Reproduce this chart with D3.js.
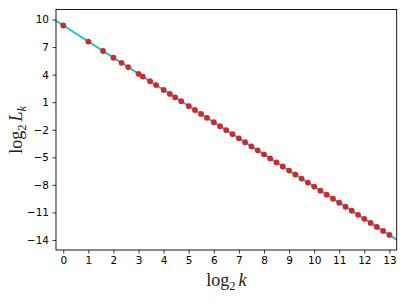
<!DOCTYPE html>
<html>
<head>
<meta charset="utf-8">
<script src="https://cdn.jsdelivr.net/npm/d3@7"></script>
<style>
  body { margin: 0; background: #fff; }
  svg { display: block; }
  .tick text { font-family: "DejaVu Sans", sans-serif; font-size: 10.5px; fill: #000; }
  .lab { font-family: "Liberation Serif", "DejaVu Serif", serif; fill: #222; }
</style>
</head>
<body>
<div id="chart"></div>
<script>
// sample sizes k (points) and the measured log2 L_k
const kValues = [1, 2, 3, 4, 5, 6, 8, 9, 11, 13, 16, 19, 22, 26, 32, 38, 45, 53, 64, 76, 90, 107,
  128, 152, 181, 215, 256, 304, 362, 430, 512, 608, 724, 861, 1024, 1217, 1448, 1722,
  2048, 2435, 2896, 3444, 4096, 4870, 5792, 6888, 8192];
const log2L = [9.35, 7.60, 6.57, 5.84, 5.28, 4.82, 4.09, 3.79, 3.28, 2.86, 2.33, 1.90, 1.53, 1.11,
  0.58, 0.15, -0.28, -0.70, -1.17, -1.61, -2.04, -2.47, -2.93, -3.36, -3.81, -4.24,
  -4.68, -5.12, -5.56, -5.99, -6.44, -6.87, -7.31, -7.75, -8.19, -8.63, -9.07, -9.51,
  -9.94, -10.38, -10.82, -11.26, -11.70, -12.14, -12.58, -13.01, -13.45];

// fitted line end points
const fitX = [-0.29, 13.29];
const fitY = [9.86, -13.96];

const xTicks = d3.range(0, 14);
const yTicks = [10, 7, 4, 1, -2, -5, -8, -11, -14];

const width = 407, height = 305;
const margin = { top: 9.5, right: 10.3, bottom: 55, left: 56 };

const svg = d3.select("#chart").append("svg")
    .attr("width", width)
    .attr("height", height);

const x = d3.scaleLinear().domain([-0.29, 13.29]).range([margin.left, width - margin.right]);
const y = d3.scaleLinear().domain([-15.09, 11.09]).range([height - margin.bottom, margin.top]);

const fmt = d => d < 0 ? "\u2212" + Math.abs(d) : String(d);

svg.append("g")
    .attr("transform", `translate(0,${height - margin.bottom})`)
    .call(d3.axisBottom(x).tickValues(xTicks).tickFormat(fmt).tickSize(3.5).tickPadding(3.5))
    .call(g => g.select(".domain").remove());

svg.append("g")
    .attr("transform", `translate(${margin.left},0)`)
    .call(d3.axisLeft(y).tickValues(yTicks).tickFormat(fmt).tickSize(3.5).tickPadding(3.5))
    .call(g => g.select(".domain").remove());

svg.selectAll(".tick text").attr("fill", "#000");
svg.selectAll(".tick line").attr("stroke", "#000").attr("stroke-width", 0.8);

// fit line
const line = d3.line().x(d => x(d[0])).y(d => y(d[1]));
svg.append("path")
    .datum(fitX.map((v, i) => [v, fitY[i]]))
    .attr("d", line)
    .attr("fill", "none")
    .attr("stroke", "#17becf")
    .attr("stroke-width", 1.8);

// points
svg.append("g")
    .selectAll("circle")
    .data(kValues.map((k, i) => [Math.log2(k), log2L[i]]))
    .enter().append("circle")
    .attr("cx", d => x(d[0]))
    .attr("cy", d => y(d[1]))
    .attr("r", 2.9)
    .attr("fill", "#d62728");

// frame
svg.append("rect")
    .attr("x", margin.left)
    .attr("y", margin.top)
    .attr("width", width - margin.left - margin.right)
    .attr("height", height - margin.top - margin.bottom)
    .attr("fill", "none")
    .attr("stroke", "#000")
    .attr("stroke-width", 0.9);

// axis labels
const xl = svg.append("text")
    .attr("class", "lab")
    .attr("x", (margin.left + width - margin.right) / 2)
    .attr("y", 286)
    .attr("text-anchor", "middle")
    .style("font-size", "18px");
xl.append("tspan").text("log");
xl.append("tspan").attr("dy", 4).style("font-size", "12.5px").text("2");
xl.append("tspan").attr("dy", -4).attr("dx", 3).style("font-style", "italic").text("k");

const yl = svg.append("text")
    .attr("class", "lab")
    .attr("transform", `translate(22,${(margin.top + height - margin.bottom) / 2}) rotate(-90)`)
    .attr("text-anchor", "middle")
    .style("font-size", "18px");
yl.append("tspan").text("log");
yl.append("tspan").attr("dy", 4).style("font-size", "12.5px").text("2");
yl.append("tspan").attr("dy", -4).attr("dx", 3).style("font-style", "italic").text("L");
yl.append("tspan").attr("dy", 3.5).style("font-size", "12.5px").style("font-style", "italic").text("k");
</script>
</body>
</html>
